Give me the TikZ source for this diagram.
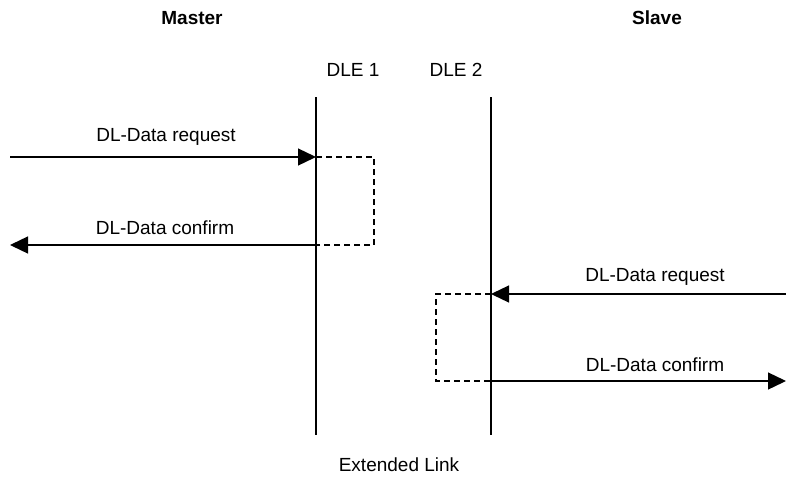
\documentclass[tikz,border=0pt]{standalone}
\usepackage{fontspec}
\setmainfont{Liberation Sans}
\usetikzlibrary{positioning,calc,arrows.meta}

\tikzset{
    lifeline/.style={line width=1.3pt},
    msg/.style={line width=1.3pt, -{Triangle[length=18pt,width=17pt]}},
    turn/.style={line width=1.3pt, dash pattern=on 6pt off 4pt},
    lbl/.style={inner sep=0pt, font=\fontsize{19}{22}\selectfont},
    head/.style={lbl, font=\fontsize{19}{22}\selectfont\bfseries}
}

\begin{document}
\begin{tikzpicture}[x=1pt,y=-1pt]
    \useasboundingbox (0,0) rectangle (786,479);

    % Headings
    \node[head] (master) at (192,18) {Master};
    \node[head] (slave) at (657,18) {Slave};
    \node[lbl] (dle1) at (353,70) {DLE 1};
    \node[lbl] (dle2) at (456,70) {DLE 2};
    \node[lbl] (ext) at (399,465) {Extended Link};

    % Lifelines
    \coordinate (d1top) at (316,97);
    \coordinate (d1bot) at (316,435);
    \coordinate (d2top) at (491,97);
    \coordinate (d2bot) at (491,435);
    \draw[lifeline] (d1top) -- (d1bot);
    \draw[lifeline] (d2top) -- (d2bot);

    % Master side
    \coordinate (mreq) at (10,157);
    \coordinate (d1req) at (316,157);
    \coordinate (d1con) at (316,245);
    \coordinate (mcon) at (10,245);
    \draw[msg] (mreq) -- (d1req);
    \draw[turn] (d1req) -- ++(58,0) |- (d1con);
    \draw[msg] (d1con) -- (mcon);
    \node[lbl] (req1) at (166,137) {DL-Data request};
    \node[lbl] (con1) at (165,228) {DL-Data confirm};

    % Slave side
    \coordinate (sreq) at (786,294);
    \coordinate (d2req) at (491,294);
    \coordinate (d2con) at (491,381);
    \coordinate (scon) at (786,381);
    \draw[msg] (sreq) -- (d2req);
    \draw[turn] (d2req) -- ++(-55,0) |- (d2con);
    \draw[msg] (d2con) -- (scon);
    \node[lbl] (req2) at (655,277) {DL-Data request};
    \node[lbl] (con2) at (655,365) {DL-Data confirm};

\end{tikzpicture}
\end{document}
